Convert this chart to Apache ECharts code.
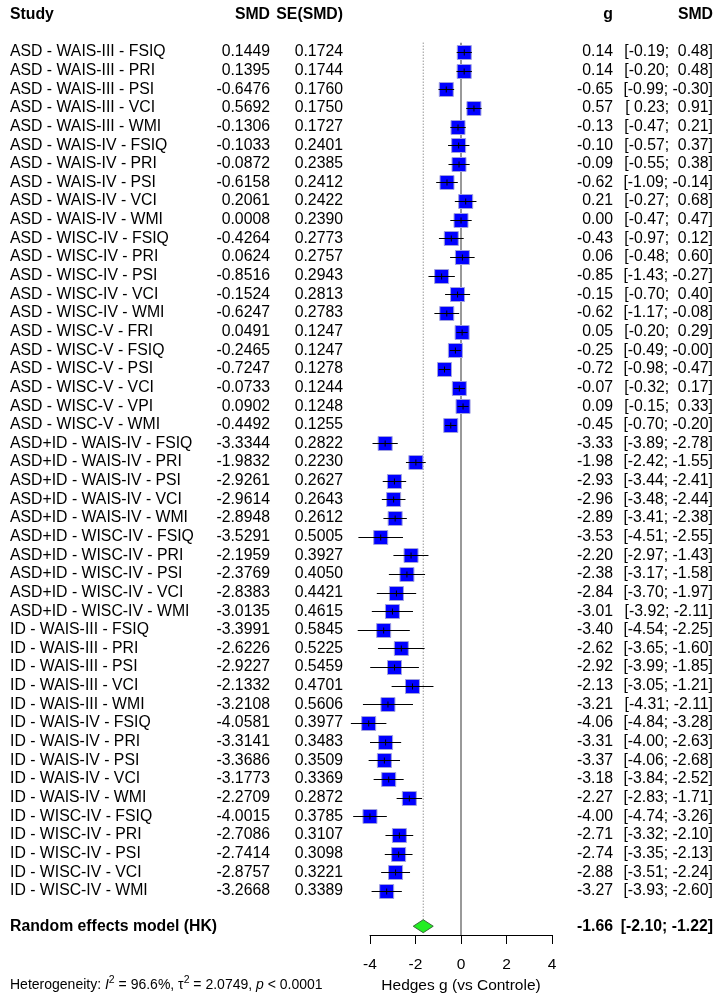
<!DOCTYPE html>
<html>
<head>
<meta charset="utf-8">
<script src="https://cdn.jsdelivr.net/npm/echarts@6/dist/echarts.min.js"></script>
<style>
  html, body { margin: 0; padding: 0; background: #fff; }
  #chart { width: 723px; height: 1000px; }
</style>
</head>
<body>
<div id="chart"></div>
<script>
const studies = [
  'ASD - WAIS-III - FSIQ', 'ASD - WAIS-III - PRI', 'ASD - WAIS-III - PSI', 'ASD - WAIS-III - VCI', 'ASD - WAIS-III - WMI',
  'ASD - WAIS-IV - FSIQ', 'ASD - WAIS-IV - PRI', 'ASD - WAIS-IV - PSI', 'ASD - WAIS-IV - VCI', 'ASD - WAIS-IV - WMI',
  'ASD - WISC-IV - FSIQ', 'ASD - WISC-IV - PRI', 'ASD - WISC-IV - PSI', 'ASD - WISC-IV - VCI', 'ASD - WISC-IV - WMI',
  'ASD - WISC-V - FRI', 'ASD - WISC-V - FSIQ', 'ASD - WISC-V - PSI', 'ASD - WISC-V - VCI', 'ASD - WISC-V - VPI', 'ASD - WISC-V - WMI',
  'ASD+ID - WAIS-IV - FSIQ', 'ASD+ID - WAIS-IV - PRI', 'ASD+ID - WAIS-IV - PSI', 'ASD+ID - WAIS-IV - VCI', 'ASD+ID - WAIS-IV - WMI',
  'ASD+ID - WISC-IV - FSIQ', 'ASD+ID - WISC-IV - PRI', 'ASD+ID - WISC-IV - PSI', 'ASD+ID - WISC-IV - VCI', 'ASD+ID - WISC-IV - WMI',
  'ID - WAIS-III - FSIQ', 'ID - WAIS-III - PRI', 'ID - WAIS-III - PSI', 'ID - WAIS-III - VCI', 'ID - WAIS-III - WMI',
  'ID - WAIS-IV - FSIQ', 'ID - WAIS-IV - PRI', 'ID - WAIS-IV - PSI', 'ID - WAIS-IV - VCI', 'ID - WAIS-IV - WMI',
  'ID - WISC-IV - FSIQ', 'ID - WISC-IV - PRI', 'ID - WISC-IV - PSI', 'ID - WISC-IV - VCI', 'ID - WISC-IV - WMI'
];
const smd = [
  0.1449, 0.1395, -0.6476, 0.5692, -0.1306,
  -0.1033, -0.0872, -0.6158, 0.2061, 0.0008,
  -0.4264, 0.0624, -0.8516, -0.1524, -0.6247,
  0.0491, -0.2465, -0.7247, -0.0733, 0.0902, -0.4492,
  -3.3344, -1.9832, -2.9261, -2.9614, -2.8948,
  -3.5291, -2.1959, -2.3769, -2.8383, -3.0135,
  -3.3991, -2.6226, -2.9227, -2.1332, -3.2108,
  -4.0581, -3.3141, -3.3686, -3.1773, -2.2709,
  -4.0015, -2.7086, -2.7414, -2.8757, -3.2668
];
const se = [
  0.1724, 0.1744, 0.1760, 0.1750, 0.1727,
  0.2401, 0.2385, 0.2412, 0.2422, 0.2390,
  0.2773, 0.2757, 0.2943, 0.2813, 0.2783,
  0.1247, 0.1247, 0.1278, 0.1244, 0.1248, 0.1255,
  0.2822, 0.2230, 0.2627, 0.2643, 0.2612,
  0.5005, 0.3927, 0.4050, 0.4421, 0.4615,
  0.5845, 0.5225, 0.5459, 0.4701, 0.5606,
  0.3977, 0.3483, 0.3509, 0.3369, 0.2872,
  0.3785, 0.3107, 0.3098, 0.3221, 0.3389
];
const lower = [
  -0.19, -0.20, -0.99, 0.23, -0.47,
  -0.57, -0.55, -1.09, -0.27, -0.47,
  -0.97, -0.48, -1.43, -0.70, -1.17,
  -0.20, -0.49, -0.98, -0.32, -0.15, -0.70,
  -3.89, -2.42, -3.44, -3.48, -3.41,
  -4.51, -2.97, -3.17, -3.70, -3.92,
  -4.54, -3.65, -3.99, -3.05, -4.31,
  -4.84, -4.00, -4.06, -3.84, -2.83,
  -4.74, -3.32, -3.35, -3.51, -3.93
];
// "-0.00" in the picture: a tiny negative value
const upper = [
  0.48, 0.48, -0.30, 0.91, 0.21,
  0.37, 0.38, -0.14, 0.68, 0.47,
  0.12, 0.60, -0.27, 0.40, -0.08,
  0.29, -0.002, -0.47, 0.17, 0.33, -0.20,
  -2.78, -1.55, -2.41, -2.44, -2.38,
  -2.55, -1.43, -1.58, -1.97, -2.11,
  -2.25, -1.60, -1.85, -1.21, -2.11,
  -3.28, -2.63, -2.68, -2.52, -1.71,
  -3.26, -2.10, -2.13, -2.24, -2.60
];
const summaryLabel = 'Random effects model (HK)';
const summaryEst = -1.66;
const summaryLower = -2.10;
const summaryUpper = -1.22;
const heterogeneity = { i2: '96.6%', tau2: '2.0749', p: '0.0001' };

const FONT = '"Liberation Sans", Arial, Helvetica, sans-serif';
const FS = 15.8;
const ROW0 = 52, ROW_H = 18.64, AXIS_Y = 935;
const yMin = -0.5;
const yMax = (AXIS_Y - ROW0) / ROW_H;
const gridTop = ROW0 + yMin * ROW_H;
const summaryRow = studies.length + 0.9;

const padCi = v => (v < 0 ? v.toFixed(2) : ' ' + v.toFixed(2));
const ciText = (lo, hi) => '[' + padCi(lo) + '; ' + padCi(hi) + ']';

function txt(text, x, y, align, bold) {
  return {
    type: 'text', x, y,
    style: {
      text, textAlign: align, textVerticalAlign: 'middle',
      fontSize: FS, fontFamily: FONT, fontWeight: bold ? 'bold' : 'normal', fill: '#000'
    }
  };
}

const chart = echarts.init(document.getElementById('chart'));

const option = {
  backgroundColor: '#fff',
  animation: false,
  grid: { left: 370, right: 171, top: gridTop, bottom: 1000 - AXIS_Y },
  xAxis: {
    type: 'value', min: -4, max: 4, interval: 2,
    axisLine: { show: true, onZero: false, lineStyle: { color: '#000', width: 1 } },
    axisTick: { show: true, length: 9, lineStyle: { color: '#000' } },
    axisLabel: { color: '#000', fontSize: 15.5, fontFamily: FONT, margin: 22 },
    splitLine: { show: false },
    name: 'Hedges g (vs Controle)', nameLocation: 'middle', nameGap: 41,
    nameTextStyle: { color: '#000', fontSize: 15.5, fontFamily: FONT }
  },
  yAxis: { type: 'value', inverse: true, min: yMin, max: yMax, show: false },
  graphic: [
    txt('Study', 10, 15, 'left', true),
    txt('SMD', 270, 15, 'right', true),
    txt('SE(SMD)', 343, 15, 'right', true),
    txt('g', 613, 15, 'right', true),
    txt('SMD', 713, 15, 'right', true),
    {
      type: 'text', x: 10, y: 985,
      style: {
        text: '{n|Heterogeneity: }{i|I}{s|2}{n| = ' + heterogeneity.i2 + ', τ}{s|2}{n| = ' +
          heterogeneity.tau2 + ', }{i|p}{n| < ' + heterogeneity.p + '}',
        textVerticalAlign: 'middle',
        rich: {
          n: { fontSize: 14, fontFamily: FONT, fill: '#000', lineHeight: 20 },
          i: { fontSize: 14, fontFamily: FONT, fontStyle: 'italic', fill: '#000', lineHeight: 20 },
          s: { fontSize: 10.5, fontFamily: FONT, fill: '#000', lineHeight: 10, verticalAlign: 'top' }
        }
      }
    }
  ],
  series: [
    {
      // reference lines: no effect (solid) and summary estimate (dotted)
      type: 'custom', z: 1, silent: true, clip: false,
      data: [[0], [summaryEst]],
      encode: { x: 0 },
      renderItem(params, api) {
        const x = api.value(0);
        const top = api.coord([x, yMin]);
        if (params.dataIndex === 0) {
          const bot = api.coord([x, yMax]);
          return { type: 'line', shape: { x1: top[0], y1: top[1], x2: bot[0], y2: bot[1] },
            style: { stroke: '#999', lineWidth: 2 } };
        }
        const bot = api.coord([x, summaryRow]);
        return { type: 'line', shape: { x1: top[0], y1: top[1], x2: bot[0], y2: bot[1] - 6 },
          style: { stroke: '#666', lineWidth: 1, lineDash: [1, 2] } };
      }
    },
    {
      // studies: square + CI line
      type: 'custom', z: 2, silent: true, clip: false,
      data: smd.map((v, i) => [v, i, lower[i], upper[i]]),
      encode: { x: [0, 2, 3], y: 1 },
      renderItem(params, api) {
        const row = api.value(1);
        const c = api.coord([api.value(0), row]);
        const l = api.coord([api.value(2), row]);
        const h = api.coord([api.value(3), row]);
        const s = 14;
        const y = Math.round(c[1]) + 0.5;
        return {
          type: 'group',
          children: [
            { type: 'rect', shape: { x: c[0] - s / 2, y: y - s / 2, width: s, height: s },
              style: { fill: '#0000ff', stroke: '#a0a0e0', lineWidth: 1 } },
            { type: 'line', shape: { x1: l[0], y1: y, x2: h[0], y2: y },
              style: { stroke: '#000', lineWidth: 1 } },
            { type: 'line', shape: { x1: c[0], y1: y - 3, x2: c[0], y2: y + 3 },
              style: { stroke: '#000', lineWidth: 1 } }
          ]
        };
      }
    },
    {
      // table text columns
      type: 'custom', z: 3, silent: true, clip: false,
      data: studies.map((s, i) => [0, i]),
      encode: { x: 0, y: 1 },
      renderItem(params, api) {
        const i = params.dataIndex;
        const y = api.coord([0, i])[1];
        return {
          type: 'group',
          children: [
            txt(studies[i], 10, y, 'left'),
            txt(smd[i].toFixed(4), 270, y, 'right'),
            txt(se[i].toFixed(4), 343, y, 'right'),
            txt(smd[i].toFixed(2), 613, y, 'right'),
            txt(ciText(lower[i], upper[i]), 713, y, 'right')
          ]
        };
      }
    },
    {
      // summary diamond and row
      type: 'custom', z: 4, silent: true, clip: false,
      data: [[summaryEst, summaryRow, summaryLower, summaryUpper]],
      encode: { x: [0, 2, 3], y: 1 },
      renderItem(params, api) {
        const row = api.value(1);
        const c = api.coord([api.value(0), row]);
        const l = api.coord([api.value(2), row]);
        const h = api.coord([api.value(3), row]);
        const y = c[1];
        return {
          type: 'group',
          children: [
            { type: 'polygon', shape: { points: [[l[0], y], [c[0], y - 6.5], [h[0], y], [c[0], y + 6.5]] },
              style: { fill: '#22ee22', stroke: '#3a6a3a', lineWidth: 1 } },
            txt(summaryLabel, 10, y, 'left', true),
            txt(summaryEst.toFixed(2), 613, y, 'right', true),
            txt(ciText(summaryLower, summaryUpper), 713, y, 'right', true)
          ]
        };
      }
    }
  ]
};

chart.setOption(option);
window.addEventListener('resize', () => chart.resize());
</script>
</body>
</html>
